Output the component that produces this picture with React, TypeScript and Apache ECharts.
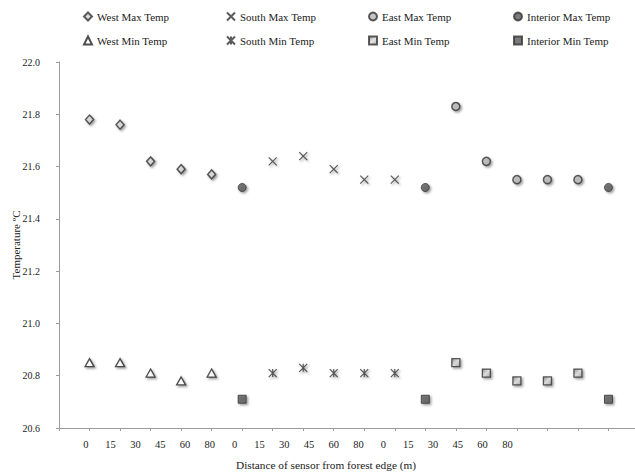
import React, { useEffect, useRef } from "react";
import * as echarts from "echarts";

// Tick labels under the x axis (distance of sensor from forest edge, m)
const xLabels = ["0", "15", "30", "45", "60", "80", "0", "15", "30", "45", "60", "80", "0", "15", "30", "45", "60", "80"];

// Sensor sequence positions along the x axis
const westPos = [1, 2, 3, 4, 5];
const southPos = [7, 8, 9, 10, 11];
const eastPos = [13, 14, 15, 16, 17];
const interiorPos = [6, 12, 18];

// Temperatures (ºC)
const westMax = [21.78, 21.76, 21.62, 21.59, 21.57];
const southMax = [21.62, 21.64, 21.59, 21.55, 21.55];
const eastMax = [21.83, 21.62, 21.55, 21.55, 21.55];
const interiorMax = [21.52, 21.52, 21.52];
const westMin = [20.85, 20.85, 20.81, 20.78, 20.81];
const southMin = [20.81, 20.83, 20.81, 20.81, 20.81];
const eastMin = [20.85, 20.81, 20.78, 20.78, 20.81];
const interiorMin = [20.71, 20.71, 20.71];

const FONT = "'Liberation Serif', 'DejaVu Serif', serif";
const DARK = "#333333";

const shadow = {
  shadowBlur: 2,
  shadowColor: "rgba(0,0,0,0.45)",
  shadowOffsetX: 1.5,
  shadowOffsetY: 1.5,
};

const CROSS = "path://M0,0L10,10M10,0L0,10";
const STAR = "path://M0,0L10,10M10,0L0,10M5,0L5,10";

const zip = (xs: number[], ys: number[]) => xs.map((x, i) => [x, ys[i]]);

export default function App() {
  const ref = useRef<HTMLDivElement>(null);

  useEffect(() => {
    if (!ref.current) return;
    const chart = echarts.init(ref.current, undefined, { renderer: "svg" });

    const seriesDefs: any[] = [
      {
        name: "West Max Temp",
        data: zip(westPos, westMax),
        symbol: "diamond",
        symbolSize: [8, 9],
        itemStyle: { color: "#d8d8d8", borderColor: DARK, borderWidth: 1.5, ...shadow },
      },
      {
        name: "South Max Temp",
        data: zip(southPos, southMax),
        symbol: CROSS,
        symbolSize: 8,
        itemStyle: { color: "transparent", borderColor: DARK, borderWidth: 1.2, ...shadow },
      },
      {
        name: "East Max Temp",
        data: zip(eastPos, eastMax),
        symbol: "circle",
        symbolSize: 8,
        itemStyle: { color: "#b8b8b8", borderColor: DARK, borderWidth: 1.5, ...shadow },
      },
      {
        name: "Interior Max Temp",
        data: zip(interiorPos, interiorMax),
        symbol: "circle",
        symbolSize: 8,
        itemStyle: { color: "#5a5a5a", borderColor: DARK, borderWidth: 1, ...shadow },
      },
      {
        name: "West Min Temp",
        data: zip(westPos, westMin),
        symbol: "triangle",
        symbolSize: [9, 8],
        itemStyle: { color: "#ffffff", borderColor: "#222222", borderWidth: 1.3, ...shadow },
      },
      {
        name: "South Min Temp",
        data: zip(southPos, southMin),
        symbol: STAR,
        symbolSize: 8,
        itemStyle: { color: "transparent", borderColor: DARK, borderWidth: 1.2, ...shadow },
      },
      {
        name: "East Min Temp",
        data: zip(eastPos, eastMin),
        symbol: "rect",
        symbolSize: 8,
        itemStyle: {
          color: new echarts.graphic.LinearGradient(0, 0, 1, 1, [
            { offset: 0, color: "#808080" },
            { offset: 0.5, color: "#e0e0e0" },
            { offset: 1, color: "#a0a0a0" },
          ]),
          borderColor: DARK,
          borderWidth: 1.3,
          ...shadow,
        },
      },
      {
        name: "Interior Min Temp",
        data: zip(interiorPos, interiorMin),
        symbol: "rect",
        symbolSize: 8,
        itemStyle: { color: "#5a5a5a", borderColor: DARK, borderWidth: 1, ...shadow },
      },
    ];

    const legendCols = [83, 226, 368, 513];
    const legendRows = [11, 35];
    const legends = seriesDefs.map((s, i) => ({
      data: [s.name],
      left: legendCols[i % 4],
      top: legendRows[Math.floor(i / 4)],
      padding: 0,
      itemWidth: 8,
      itemHeight: 8,
      selectedMode: false,
      textStyle: { fontFamily: FONT, fontSize: 11, color: "#222" },
    }));

    chart.setOption({
      animation: false,
      backgroundColor: "#ffffff",
      textStyle: { fontFamily: FONT },
      title: {
        text: "Distance of sensor from forest edge (m)",
        left: 326,
        top: 459,
        textAlign: "center",
        padding: 0,
        textStyle: { fontFamily: FONT, fontSize: 11.3, fontWeight: "normal", color: "#222" },
      },
      legend: legends,
      grid: [
        { left: 59, right: -4, top: 62, bottom: 46, outerBoundsMode: "none", containLabel: false },
        { left: 73.4, width: 446.4, top: 62, bottom: 46, outerBoundsMode: "none", containLabel: false },
      ],
      xAxis: [
        {
          type: "value",
          gridIndex: 0,
          min: 0,
          max: 19,
          interval: 1,
          axisLine: { show: true, lineStyle: { color: "#9a9a9a", width: 1 } },
          axisTick: { show: true, length: 3, lineStyle: { color: "#9a9a9a" } },
          axisLabel: { show: false },
          splitLine: { show: false },
        },
        {
          type: "category",
          gridIndex: 1,
          data: xLabels,
          boundaryGap: true,
          axisLine: { show: false },
          axisTick: { show: false },
          axisLabel: { margin: 11, fontFamily: FONT, fontSize: 10.5, color: "#222", interval: 0 },
          splitLine: { show: false },
        },
      ],
      yAxis: [
        {
          type: "value",
          gridIndex: 0,
          min: 20.6,
          max: 22.0,
          interval: 0.2,
          name: "Temperature ºC",
          nameLocation: "middle",
          nameGap: 38,
          nameMoveOverlap: false,
          nameTextStyle: { fontFamily: FONT, fontSize: 11, color: "#222" },
          axisLine: { show: true, lineStyle: { color: "#9a9a9a", width: 1 } },
          axisTick: { show: true, length: 3, lineStyle: { color: "#9a9a9a" } },
          axisLabel: {
            margin: 19,
            fontFamily: FONT,
            fontSize: 10,
            color: "#222",
            formatter: (v: number) => v.toFixed(1),
          },
          splitLine: { show: false },
        },
        { type: "value", gridIndex: 1, show: false, min: 20.6, max: 22.0 },
      ],
      series: seriesDefs.map((s) => ({
        type: "scatter",
        xAxisIndex: 0,
        yAxisIndex: 0,
        ...s,
      })),
    });

    return () => chart.dispose();
  }, []);

  return <div ref={ref} style={{ width: 635, height: 474, position: "absolute", left: 0, top: 0 }} />;
}
